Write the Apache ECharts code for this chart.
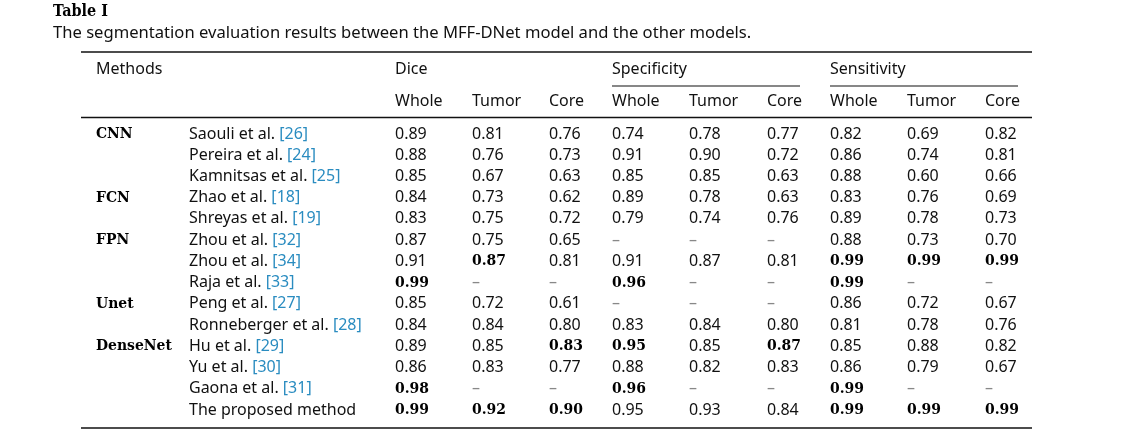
<!DOCTYPE html>
<html lang="en">
<head>
<meta charset="utf-8">
<title>Table I</title>
<script src="https://cdn.jsdelivr.net/npm/echarts@6/dist/echarts.min.js"></script>
<style>
  html, body { margin: 0; padding: 0; background: #fff; }
  #main { width: 1123px; height: 448px; }
</style>
</head>
<body>
<div id="main"></div>
<script type="text/javascript">
// table content
var groups = ['CNN', '', '', 'FCN', '', 'FPN', '', '', 'Unet', '', 'DenseNet', '', '', ''];
var methods = ['Saouli et al.', 'Pereira et al.', 'Kamnitsas et al.', 'Zhao et al.', 'Shreyas et al.',
  'Zhou et al.', 'Zhou et al.', 'Raja et al.', 'Peng et al.', 'Ronneberger et al.',
  'Hu et al.', 'Yu et al.', 'Gaona et al.', 'The proposed method'];
var refs = [26, 24, 25, 18, 19, 32, 34, 33, 27, 28, 29, 30, 31, null];
var metrics = ['Dice', 'Specificity', 'Sensitivity'];
var regions = ['Whole', 'Tumor', 'Core'];

var diceWhole = [0.89, 0.88, 0.85, 0.84, 0.83, 0.87, 0.91, 0.99, 0.85, 0.84, 0.89, 0.86, 0.98, 0.99];
var diceTumor = [0.81, 0.76, 0.67, 0.73, 0.75, 0.75, 0.87, null, 0.72, 0.84, 0.85, 0.83, null, 0.92];
var diceCore  = [0.76, 0.73, 0.63, 0.62, 0.72, 0.65, 0.81, null, 0.61, 0.80, 0.83, 0.77, null, 0.90];
var specWhole = [0.74, 0.91, 0.85, 0.89, 0.79, null, 0.91, 0.96, null, 0.83, 0.95, 0.88, 0.96, 0.95];
var specTumor = [0.78, 0.90, 0.85, 0.78, 0.74, null, 0.87, null, null, 0.84, 0.85, 0.82, null, 0.93];
var specCore  = [0.77, 0.72, 0.63, 0.63, 0.76, null, 0.81, null, null, 0.80, 0.87, 0.83, null, 0.84];
var sensWhole = [0.82, 0.86, 0.88, 0.83, 0.89, 0.88, 0.99, 0.99, 0.86, 0.81, 0.85, 0.86, 0.99, 0.99];
var sensTumor = [0.69, 0.74, 0.60, 0.76, 0.78, 0.73, 0.99, null, 0.72, 0.78, 0.88, 0.79, null, 0.99];
var sensCore  = [0.82, 0.81, 0.66, 0.69, 0.73, 0.70, 0.99, null, 0.67, 0.76, 0.82, 0.67, null, 0.99];

// rows printed in bold, per value column
var boldRows = [
  [7, 12, 13], [6, 13], [10, 13],
  [7, 10, 12], [], [10],
  [6, 7, 12, 13], [6, 13], [6, 13]
];

// layout (pixels)
var colX = [96, 189, 395, 472, 549, 612, 689, 767, 830, 907, 985];
var metricX = [395, 612, 830];
var lineL = 81, lineR = 1032;
var rowTop = 123.4, rowH = 21.23;

var sans = '"Noto Sans", sans-serif';
var serifB = '"DejaVu Serif Condensed", "DejaVu Serif", serif';
var bodyFont = '16px ' + sans;
var boldFont = 'bold 15.5px ' + serifB;

var valueCols = [diceWhole, diceTumor, diceCore, specWhole, specTumor, specCore, sensWhole, sensTumor, sensCore];
var rowIdx = methods.map(function (m, i) { return String(i); });

var cells = [];
for (var r = 0; r < methods.length; r++) {
  if (groups[r]) cells.push({ value: [colX[0], r], text: groups[r], kind: 'group' });
  cells.push({ value: [colX[1], r], text: methods[r], ref: refs[r], kind: 'method' });
  for (var c = 0; c < valueCols.length; c++) {
    var v = valueCols[c][r];
    if (v == null) {
      cells.push({ value: [colX[c + 2], r], text: '\u2013', kind: 'dash' });
    } else {
      cells.push({ value: [colX[c + 2], r], text: v.toFixed(2),
        kind: boldRows[c].indexOf(r) >= 0 ? 'bold' : 'num' });
    }
  }
}

function cellText(d) {
  if (d.kind === 'method') {
    return d.ref != null ? '{m|' + d.text + ' }{r|[' + d.ref + ']}' : '{m|' + d.text + '}';
  }
  return d.text;
}

var chart = echarts.init(document.getElementById('main'));

function label(text, x, y, font, fill) {
  return { type: 'text', x: x, y: y,
    style: { text: text, font: font, fill: fill || '#111', verticalAlign: 'middle', align: 'left' } };
}
var graphics = [
  label('Table I', 53, 12, 'bold 16px ' + serifB, '#000'),
  label('The segmentation evaluation results between the MFF-DNet model and the other models.', 53, 33, '16.6px ' + sans),
  label('Methods', colX[0], 69, bodyFont)
];
metrics.forEach(function (m, i) {
  graphics.push(label(m, metricX[i], 69, bodyFont));
});
for (var k = 0; k < 9; k++) {
  graphics.push(label(regions[k % 3], colX[k + 2], 101, bodyFont));
}
function rule(x1, x2, y, w) {
  return { type: 'line', shape: { x1: x1, y1: y, x2: x2, y2: y }, style: { stroke: '#111', lineWidth: w } };
}
graphics.push(rule(lineL, lineR, 52, 1.6));
graphics.push(rule(612, 800, 86, 1.2));
graphics.push(rule(830, 1018, 86, 1.2));
graphics.push(rule(lineL, lineR, 117.5, 1.6));
graphics.push(rule(lineL, lineR, 428, 1.6));

option = {
  animation: false,
  backgroundColor: '#fff',
  grid: { left: 0, right: 0, top: rowTop, height: rowH * methods.length },
  xAxis: { type: 'value', min: 0, max: 1123, show: false },
  yAxis: { type: 'category', data: rowIdx, inverse: true, show: false },
  graphic: graphics,
  series: [{
    type: 'custom',
    coordinateSystem: 'cartesian2d',
    data: cells,
    encode: { x: 0, y: 1 },
    renderItem: function (params, api) {
      var d = cells[params.dataIndex];
      var p = api.coord([api.value(0), api.value(1)]);
      var style = { text: cellText(d), x: p[0], y: p[1], verticalAlign: 'middle', align: 'left' };
      if (d.kind === 'group' || d.kind === 'bold') {
        style.font = boldFont; style.fill = '#000';
      } else if (d.kind === 'dash') {
        style.font = bodyFont; style.fill = '#888';
      } else if (d.kind === 'method') {
        style.rich = {
          m: { font: bodyFont, fill: '#111' },
          r: { font: bodyFont, fill: '#2a8cc0' }
        };
      } else {
        style.font = bodyFont; style.fill = '#111';
      }
      return { type: 'text', style: style };
    }
  }]
};

chart.setOption(option);
</script>
</body>
</html>
